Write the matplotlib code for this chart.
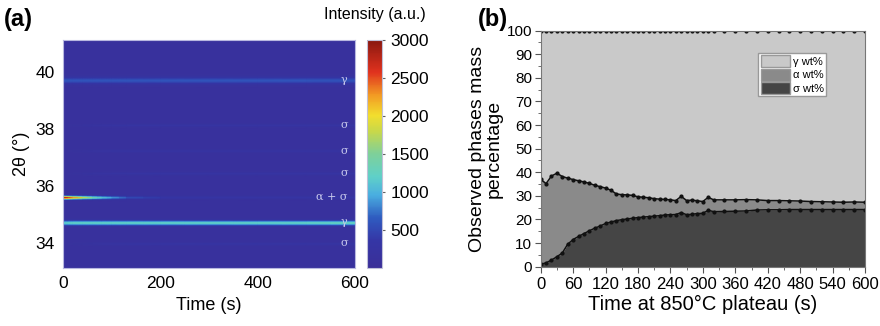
import numpy as np
import matplotlib
matplotlib.use('Agg')
import matplotlib.pyplot as plt
from matplotlib.colors import LinearSegmentedColormap
from matplotlib.patches import Patch
from matplotlib.ticker import MultipleLocator

plt.rcParams['font.family'] = ['Liberation Sans', 'DejaVu Sans']

# ---- panel (a): in-situ XRD peaks ----
peak_pos = [39.72, 38.14, 37.24, 36.45, 35.61, 34.72, 33.98]
peak_names = ['γ', 'σ', 'σ', 'σ', 'α + σ', 'γ', 'σ']
peak_width = [0.12, 0.06, 0.06, 0.06, 0.06, 0.085, 0.06]
scan_times = [0, 10, 20, 40, 60, 80, 100, 130, 200, 300, 400, 500, 600]
peak_int = [
    [480, 480, 480, 480, 480, 480, 480, 480, 480, 480, 480, 480, 450],
    [0, 20, 40, 70, 100, 120, 130, 140, 150, 150, 150, 150, 150],
    [0, 20, 40, 70, 100, 120, 130, 140, 150, 150, 150, 150, 150],
    [0, 20, 40, 70, 100, 120, 130, 140, 150, 150, 150, 150, 150],
    [2700, 2500, 2200, 1700, 1300, 1000, 800, 450, 220, 180, 180, 180, 180],
    [1050, 1080, 1100, 1100, 1100, 1100, 1100, 1100, 1100, 1100, 1100, 1120, 1150],
    [0, 20, 40, 70, 100, 120, 130, 140, 150, 150, 150, 150, 150],
]
background = 120

# ---- panel (b): phase fractions ----
t_b = [0, 10, 20, 30, 40, 50, 60, 70, 80, 90, 100, 110, 120, 130, 140, 150, 160,
       170, 180, 190, 200, 210, 220, 230, 240, 250, 260, 270, 280, 290, 300, 310,
       320, 340, 360, 380, 400, 420, 440, 460, 480, 500, 520, 540, 560, 580, 600]
sigma_wt = [1.0, 1.6, 2.8, 4.2, 5.8, 9.5, 11.5, 12.8, 14.0, 15.2, 16.3, 17.2, 18.3,
            18.9, 19.5, 19.9, 20.2, 20.5, 20.8, 21.0, 21.2, 21.4, 21.6, 21.9, 22.0,
            22.1, 22.9, 22.0, 22.2, 22.5, 22.6, 23.9, 23.3,
            23.4, 23.5, 23.6, 24.0, 24.1, 24.1, 24.2, 24.2, 24.2, 24.2, 24.2, 24.2,
            24.2, 24.2]
sigma_alpha_wt = [37.0, 35.2, 38.4, 39.6, 38.2, 37.5, 36.9, 36.4, 35.9, 35.3, 34.5,
                  33.9, 33.3, 32.4, 30.8, 30.5, 30.4, 30.2, 29.6, 29.4, 29.2, 28.8,
                  28.6, 28.5, 28.3, 28.0, 29.8, 28.0, 28.2, 27.9, 27.6, 29.4, 28.3,
                  28.3, 28.3, 28.4, 28.3, 28.0, 28.0, 27.9, 27.8, 27.6, 27.5, 27.4,
                  27.3, 27.4, 27.3]
total_wt = [100] * len(t_b)

fig = plt.figure(figsize=(8.8, 3.26), dpi=100)

# colormap close to the washed-out jet of the figure
cmap = LinearSegmentedColormap.from_list('xrd', [
    (0.0, '#3a2f98'), (0.12, '#3536a6'), (0.22, '#2f5cc0'), (0.32, '#4aaee0'),
    (0.40, '#5fd0c8'), (0.50, '#7ed09a'), (0.60, '#c8d84a'), (0.67, '#f2de2e'),
    (0.76, '#f29a24'), (0.86, '#e0321e'), (1.0, '#8a1810')])

ylo, yhi = 33.12, 41.12
yy = np.linspace(ylo, yhi, 800)
Z = np.full((len(yy), len(scan_times)), float(background))
for pos, w, ints in zip(peak_pos, peak_width, peak_int):
    prof = np.exp(-((yy - pos) / w) ** 2)
    Z += prof[:, None] * np.array(ints, float)[None, :]

ax1 = fig.add_axes([0.0716, 0.178, 0.3318, 0.699])
ax1.pcolormesh(scan_times, yy, Z, cmap=cmap, vmin=0, vmax=3000, shading='gouraud')
ax1.set_xlim(0, 600)
ax1.set_ylim(ylo, yhi)
ax1.set_xticks([0, 200, 400, 600])
ax1.set_yticks([34, 36, 38, 40])
ax1.tick_params(length=0, labelsize=12.5, pad=6)
for s in ax1.spines.values():
    s.set_color('#b8b8e0')
ax1.set_xlabel('Time (s)', fontsize=13)
ax1.set_ylabel('2θ (°)', fontsize=13, labelpad=4)
for pos, name in zip(peak_pos, peak_names):
    ax1.text(585, pos, name, color='#c8c8ec', fontsize=8, ha='right', va='center',
             family='DejaVu Serif')

cax = fig.add_axes([0.417, 0.178, 0.017, 0.699])
sm = plt.cm.ScalarMappable(cmap=cmap, norm=plt.Normalize(0, 3000))
cb = fig.colorbar(sm, cax=cax, ticks=[500, 1000, 1500, 2000, 2500, 3000])
cb.outline.set_edgecolor('#c0c0d8')
cax.tick_params(length=2, labelsize=12.5, color='#606060', pad=4)
fig.text(0.484, 0.955, 'Intensity (a.u.)', fontsize=11.5, ha='right', va='center')
fig.text(0.004, 0.94, '(a)', fontsize=17, fontweight='bold', va='center')

# ---- panel (b) ----
c_sigma, c_alpha, c_gamma = '#454545', '#8a8a8a', '#c9c9c9'
ax2 = fig.add_axes([0.6144, 0.182, 0.3686, 0.724])
ax2.fill_between(t_b, 0, sigma_wt, color=c_sigma, lw=0)
ax2.fill_between(t_b, sigma_wt, sigma_alpha_wt, color=c_alpha, lw=0)
ax2.fill_between(t_b, sigma_alpha_wt, total_wt, color=c_gamma, lw=0)
for yv in (sigma_wt, sigma_alpha_wt, total_wt):
    ax2.plot(t_b, yv, color='#111111', lw=1.1, marker='o', ms=2)
ax2.set_xlim(0, 600)
ax2.set_ylim(0, 100)
ax2.set_xticks(np.arange(0, 601, 60))
ax2.set_yticks(np.arange(0, 101, 10))
ax2.xaxis.set_minor_locator(MultipleLocator(30))
ax2.yaxis.set_minor_locator(MultipleLocator(5))
ax2.tick_params(axis='x', labelsize=12, length=4, color='#555555')
ax2.tick_params(axis='y', labelsize=11, length=4, color='#555555', pad=2)
ax2.tick_params(which='minor', length=2, color='#555555')
for s in ax2.spines.values():
    s.set_color('#777777')
ax2.set_xlabel('Time at 850°C plateau (s)', fontsize=14.5, labelpad=2)
ax2.set_ylabel('Observed phases mass\npercentage', fontsize=14, linespacing=1.0,
               labelpad=3)
handles = [Patch(facecolor=c, edgecolor='#999999') for c in (c_gamma, c_alpha, c_sigma)]
leg = ax2.legend(handles, ['γ wt%', 'α wt%', 'σ wt%'], loc='upper right',
                 bbox_to_anchor=(0.88, 0.905), fontsize=8, fancybox=False,
                 framealpha=1, edgecolor='#999999', handlelength=2.6,
                 handleheight=1.3, labelspacing=0.1, borderpad=0.2,
                 handletextpad=0.3, borderaxespad=0)
fig.text(0.543, 0.94, '(b)', fontsize=17, fontweight='bold', va='center')

fig.savefig('out.png', dpi=100)
